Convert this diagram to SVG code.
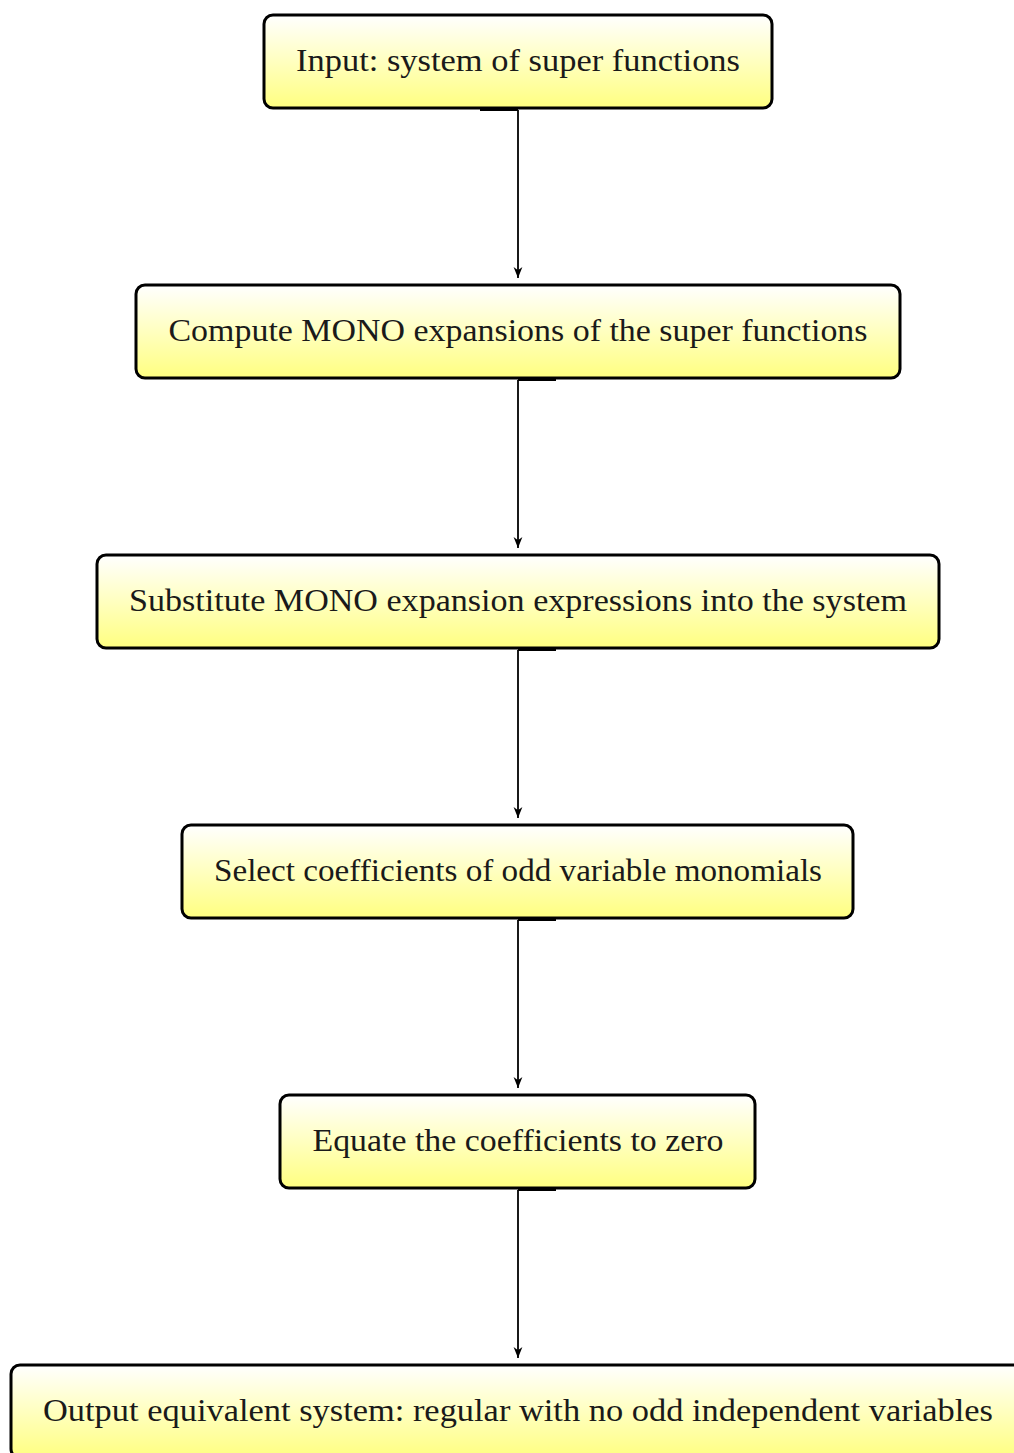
<svg xmlns="http://www.w3.org/2000/svg" width="1014" height="1453" viewBox="0 0 1014 1453">
<defs>
<linearGradient id="g" x1="0" y1="0" x2="0" y2="1">
<stop offset="0" stop-color="#ffffff"/>
<stop offset="1" stop-color="#ffff80"/>
</linearGradient>
<marker id="ah" viewBox="0 0 10 10" refX="10" refY="5" markerWidth="11" markerHeight="11" markerUnits="userSpaceOnUse" orient="auto">
<path d="M0,1 L10,5 L0,9 L3,5 Z" fill="#000"/>
</marker>
<style>
.box{fill:url(#g);stroke:#000;stroke-width:3}
.t{font-family:"Liberation Serif","Times New Roman",serif;font-size:32px;fill:#1a1a1a;text-anchor:middle}
.c{stroke:#000;stroke-width:1.8;fill:none;marker-end:url(#ah)}
.nub{fill:#000}
</style>
</defs>
<rect width="1014" height="1453" fill="#fff"/>
<g id="connectors">
<line class="c" x1="518" y1="110" x2="518" y2="278"/>
<line class="c" x1="518" y1="380" x2="518" y2="548"/>
<line class="c" x1="518" y1="650" x2="518" y2="818"/>
<line class="c" x1="518" y1="920" x2="518" y2="1088"/>
<line class="c" x1="518" y1="1190" x2="518" y2="1358"/>
<rect class="nub" x="480" y="108" width="38" height="3"/>
<rect class="nub" x="518" y="378" width="38" height="3"/>
<rect class="nub" x="518" y="648" width="38" height="3"/>
<rect class="nub" x="518" y="918" width="38" height="3"/>
<rect class="nub" x="518" y="1188" width="38" height="3"/>
</g>
<g id="n1">
<rect class="box" x="264" y="15" width="508" height="93" rx="9"/>
<text class="t" x="518" y="71" textLength="444" lengthAdjust="spacingAndGlyphs">Input: system of super functions</text>
</g>
<g id="n2">
<rect class="box" x="136" y="285" width="764" height="93" rx="9"/>
<text class="t" x="518" y="341" textLength="699" lengthAdjust="spacingAndGlyphs">Compute MONO expansions of the super functions</text>
</g>
<g id="n3">
<rect class="box" x="97" y="555" width="842" height="93" rx="9"/>
<text class="t" x="518" y="611" textLength="778" lengthAdjust="spacingAndGlyphs">Substitute MONO expansion expressions into the system</text>
</g>
<g id="n4">
<rect class="box" x="182" y="825" width="671" height="93" rx="9"/>
<text class="t" x="518" y="881" textLength="608" lengthAdjust="spacingAndGlyphs">Select coefficients of odd variable monomials</text>
</g>
<g id="n5">
<rect class="box" x="280" y="1095" width="475" height="93" rx="9"/>
<text class="t" x="518" y="1151" textLength="411" lengthAdjust="spacingAndGlyphs">Equate the coefficients to zero</text>
</g>
<g id="n6">
<rect class="box" x="11" y="1365" width="1015" height="93" rx="9"/>
<text class="t" x="518" y="1421" textLength="950" lengthAdjust="spacingAndGlyphs">Output equivalent system: regular with no odd independent variables</text>
</g>
</svg>
